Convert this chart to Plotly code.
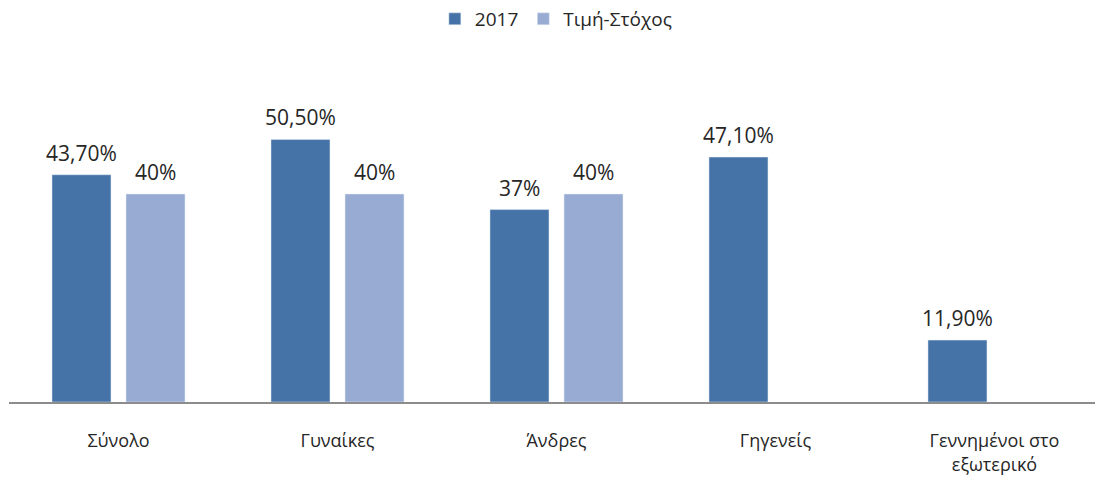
import plotly.graph_objects as go

categories = ["Σύνολο", "Γυναίκες", "Άνδρες", "Γηγενείς", "Γεννημένοι στο<br>εξωτερικό"]
values_2017 = [43.7, 50.5, 37.0, 47.1, 11.9]
labels_2017 = ["43,70%", "50,50%", "37%", "47,10%", "11,90%"]
values_target = [40, 40, 40, None, None]
labels_target = ["40%", "40%", "40%", "", ""]

fig = go.Figure()
fig.add_trace(go.Bar(x=categories, y=values_2017, name="2017", marker_color="#4572A7"))
fig.add_trace(go.Bar(x=categories, y=values_target, name="Τιμή-Στόχος", marker_color="#98ABD3"))

# data labels as annotations so the gap above each bar can be set
for serie, labels, shift in [(values_2017, labels_2017, -37), (values_target, labels_target, 37)]:
    for cat, v, lab in zip(categories, serie, labels):
        if v is None:
            continue
        fig.add_annotation(x=cat, y=v, text=lab, showarrow=False, xshift=shift,
                           yanchor="bottom", yshift=6,
                           font=dict(size=21, color="#262626"))

fig.update_layout(
    width=1095, height=478,
    margin=dict(l=9, r=0, t=90, b=76),
    paper_bgcolor="white", plot_bgcolor="white",
    font=dict(family="Open Sans, Noto Sans, sans-serif", size=18, color="#262626"),
    barmode="group", bargap=0.324, bargroupgap=0.203,
    legend=dict(orientation="h", x=0.504, xanchor="center", y=1.0, yanchor="top",
                yref="container", font=dict(size=19)),
    showlegend=True,
)
fig.update_xaxes(
    range=[-0.5, 4.459], showline=True, linecolor="#8c8c8c", linewidth=1.5,
    showgrid=False, ticks="", ticklabelstandoff=22, tickfont=dict(size=18),
    automargin=False,
)
fig.update_yaxes(range=[0, 60], visible=False, automargin=False)

# drop the default body margin so the figure sits at the page corner
fig.write_html("out.html", config={"displayModeBar": False},
               post_script="document.body.style.margin='0px';")
